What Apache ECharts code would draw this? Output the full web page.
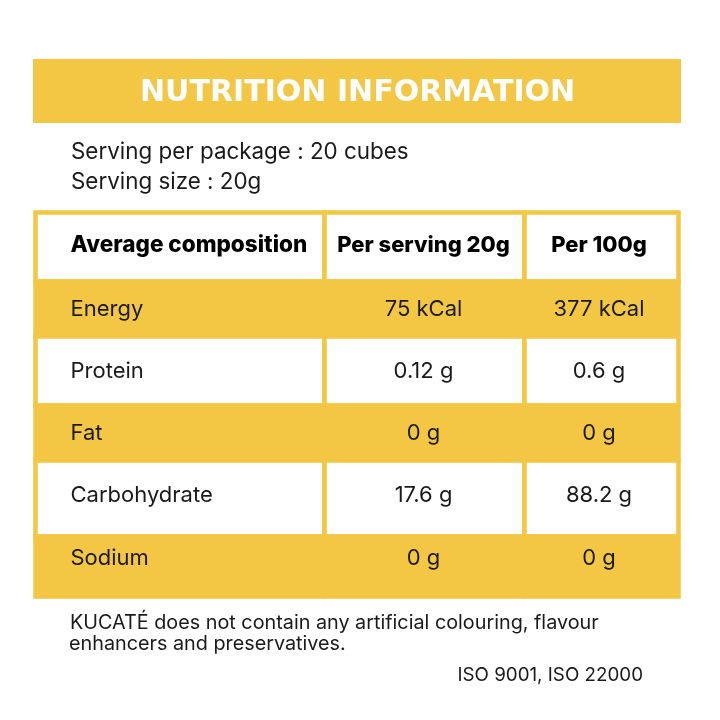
<!DOCTYPE html>
<html>
<head>
<meta charset="utf-8">
<title>Nutrition information</title>
<style>html,body{margin:0;padding:0;background:#fff}</style>
</head>
<body>
<div id="main" style="width:720px;height:720px;"></div>
<script src="https://cdn.jsdelivr.net/npm/echarts@6/dist/echarts.min.js"></script>
<script>
var columns = ['Average composition', 'Per serving 20g', 'Per 100g'];
var nutrients = ['Energy', 'Protein', 'Fat', 'Carbohydrate', 'Sodium'];
var perServing = ['75 kCal', '0.12 g', '0 g', '17.6 g', '0 g'];
var per100g = ['377 kCal', '0.6 g', '0 g', '88.2 g', '0 g'];
var servingLines = ['Serving per package : 20 cubes', 'Serving size : 20g'];
var noteLines = ['KUCATÉ does not contain any artificial colouring, flavour', 'enhancers and preservatives.'];
var isoText = 'ISO 9001, ISO 22000';

var YELLOW = '#f3c743';
var FONT = 'Inter';
var colSizes = [288.5, 200.5, 154];
var rowSizes = [68.75, 54.75, 69, 55, 76, 60];
// text sits above the cell middle in some rows of the original
var rowLift = [2, 0, 0, 0, 3, 8];
var colPad = [[3, 0], [0, 2], [0, 5]];

function cellLabel(c, r, bold) {
    var label = {
        fontFamily: FONT,
        fontSize: bold && c === 0 ? 22.5 : 22,
        fontWeight: bold ? 800 : 'normal',
        color: bold ? '#000' : '#1a1a1a',
        position: c === 0 ? 'insideLeft' : 'inside',
        distance: 32,
        align: c === 0 ? 'left' : 'center',
        overflow: 'none',
        padding: [0, colPad[c][1], 0, colPad[c][0]]
    };
    if (rowLift[r]) {
        label.verticalAlign = 'bottom';
        label.lineHeight = rowLift[r] * 2;
    }
    return label;
}

// matrix cells: header row first, then one row per nutrient
var cells = [];
columns.forEach(function (name, c) {
    cells.push({coord: [c, 0], value: name, label: cellLabel(c, 0, true), itemStyle: {color: '#fff'}});
});
nutrients.forEach(function (name, i) {
    var bg = i % 2 === 0 ? YELLOW : '#fff';
    [name, perServing[i], per100g[i]].forEach(function (text, c) {
        cells.push({coord: [c, i + 1], value: text, label: cellLabel(c, i + 1, false), itemStyle: {color: bg}});
    });
});

var myChart = echarts.init(document.getElementById('main'));

var option = {
    backgroundColor: '#fff',
    animation: false,
    title: {
        text: 'NUTRITION INFORMATION',
        left: 135,
        top: 73,
        textStyle: {fontFamily: 'DejaVu Sans', fontSize: 30, fontWeight: 'bold', color: '#fff'}
    },
    matrix: {
        left: 35.5,
        top: 212.5,
        width: 643,
        height: 383.5,
        x: {show: false, data: columns.map(function (c, i) { return {value: c, size: colSizes[i]}; })},
        y: {show: false, data: ['Header'].concat(nutrients).map(function (r, i) { return {value: r, size: rowSizes[i]}; })},
        body: {
            data: cells,
            itemStyle: {borderColor: YELLOW, borderWidth: 4.5}
        }
    },
    graphic: [
        {type: 'rect', z: -1, shape: {x: 33, y: 59, width: 648, height: 64}, style: {fill: YELLOW}},
        {type: 'text', x: 71, y: 141, style: {text: servingLines[0], font: '22.4px ' + FONT, fill: '#1a1a1a'}},
        {type: 'text', x: 71, y: 171, style: {text: servingLines[1], font: '22.4px ' + FONT, fill: '#1a1a1a'}},
        {type: 'text', x: 70, y: 613, style: {text: noteLines[0], font: '19.8px ' + FONT, fill: '#1a1a1a'}},
        {type: 'text', x: 69, y: 634, style: {text: noteLines[1], font: '19.8px ' + FONT, fill: '#1a1a1a'}},
        {type: 'text', x: 643, y: 666, style: {text: isoText, font: '18.8px ' + FONT, fill: '#1a1a1a', align: 'right'}}
    ]
};
myChart.setOption(option);
</script>
</body>
</html>
